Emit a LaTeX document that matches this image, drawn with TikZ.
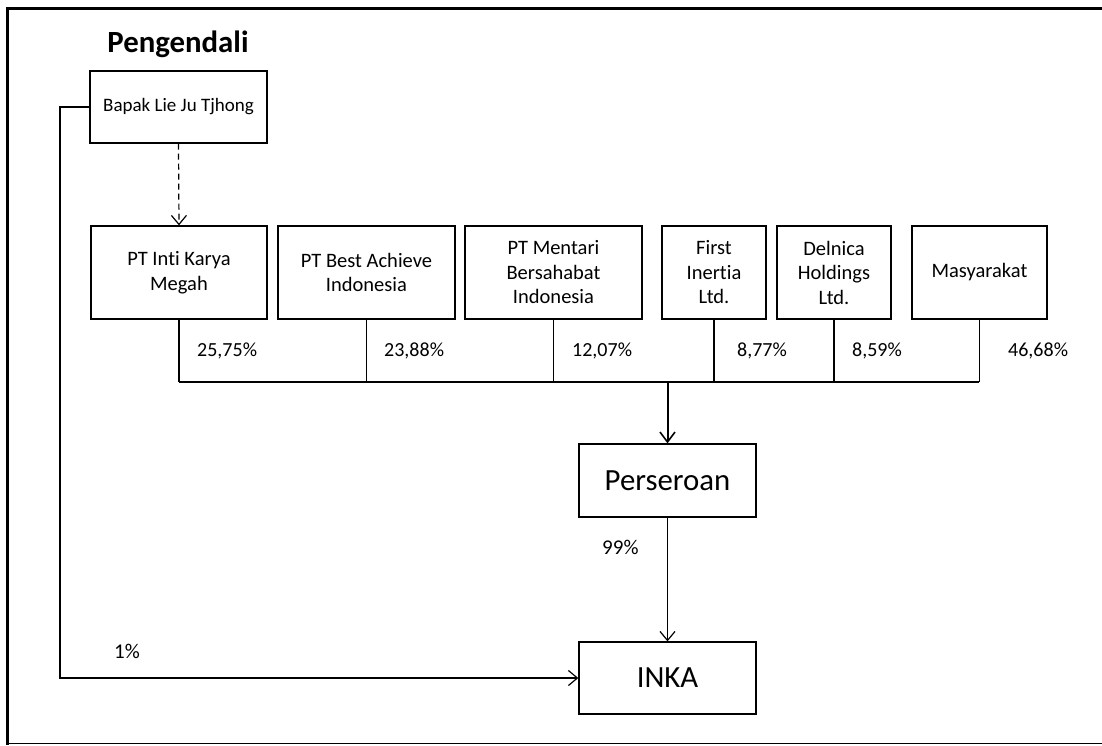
\documentclass[tikz,border=0pt]{standalone}
\usepackage{fontspec}
\setmainfont{Carlito}[Ligatures=NoCommon]
\usetikzlibrary{arrows.meta}
\begin{document}
\begin{tikzpicture}[x=1pt,y=-1pt,
  box/.style={draw, line width=1.3pt, inner sep=0pt, minimum height=93pt, align=center, font=\fontsize{20.5}{24.5}\selectfont},
  bigbox/.style={draw, line width=1.3pt, inner sep=0pt, minimum width=177pt, font=\fontsize{30.8}{36}\selectfont},
  pct/.style={anchor=base west, inner sep=0pt, font=\fontsize{20}{24}\selectfont},
  small/.style={anchor=base west, inner sep=0pt, font=\fontsize{21}{25}\selectfont},
  conn/.style={line width=1.2pt},
  arr/.style={line width=1.2pt, -{Straight Barb[length=9pt,width=15pt,line width=1.2pt]}},
  thickarr/.style={line width=2pt, -{Straight Barb[length=10pt,width=15pt,line width=1.6pt]}}
]
\useasboundingbox (0,0) rectangle (1102,745);
% frame
\draw[line width=3.4pt] (1110,8.3) -- (7.5,8.3) -- (7.5,745);
\draw[line width=1.5pt] (7.5,743.5) -- (1110,743.5);

\node[anchor=base, inner sep=0pt, font=\fontsize{30.8}{36}\selectfont\bfseries] (title) at (178,52) {Pengendali};

\node[draw, line width=1.3pt, inner sep=0pt, minimum width=177pt, minimum height=72pt, font=\fontsize{19}{23}\selectfont] (bapak) at (178.5,107) {Bapak Lie Ju Tjhong};

\node[box, minimum width=176pt] (inti) at (179,272.5) {PT Inti Karya\\Megah};
\node[box, minimum width=177pt] (best) at (366.5,272.5) {PT Best Achieve\\Indonesia};
\node[box, minimum width=177pt] (mentari) at (553.5,272.5) {PT Mentari\\Bersahabat\\Indonesia};
\node[box, minimum width=104pt] (first) at (714,272.5) {First\\Inertia\\Ltd.};
\node[box, minimum width=114pt] (delnica) at (834,272.5) {Delnica\\Holdings\\Ltd.};
\node[box, minimum width=135pt] (masy) at (979.5,272.5) {Masyarakat};

\node[bigbox, minimum height=73pt] (pers) at (667.5,480.5) {Perseroan};
\node[bigbox, minimum height=72pt] (inka) at (667.5,678) {INKA};

% dashed control arrow
\draw[arr, dash pattern=on 6pt off 4pt] (bapak.south) -- (inti.north);

% bus
\coordinate (busL) at (179,382);
\coordinate (busR) at (979,382);
\draw[conn] (inti.south) -- (inti.south |- busL);
\draw[conn] (best.south) -- (best.south |- busL);
\draw[conn] (mentari.south) -- (mentari.south |- busL);
\draw[conn] (first.south) -- (first.south |- busL);
\draw[conn] (delnica.south) -- (delnica.south |- busL);
\draw[conn] (masy.south) -- (masy.south |- busL);
\draw[conn] (busL) -- (busR);
\draw[thickarr] (pers.north |- busL) -- (pers.north);

% percentages
\node[pct] (p1) at (197,356) {25,75\%};
\node[pct] (p2) at (384,356) {23,88\%};
\node[pct] (p3) at (572,356) {12,07\%};
\node[pct] (p4) at (737,356) {8,77\%};
\node[pct] (p5) at (852,356) {8,59\%};
\node[pct] (p6) at (1008,356) {46,68\%};

% Perseroan -> INKA
\draw[arr] (pers.south) -- (inka.north);
\node[small] (p99) at (602,554) {99\%};

% Bapak -> INKA
\coordinate (lt) at (60,107);
\draw[arr] (bapak.west) -- (lt) |- (inka.west);
\node[small] (p1pc) at (114,658) {1\%};
\end{tikzpicture}
\end{document}
